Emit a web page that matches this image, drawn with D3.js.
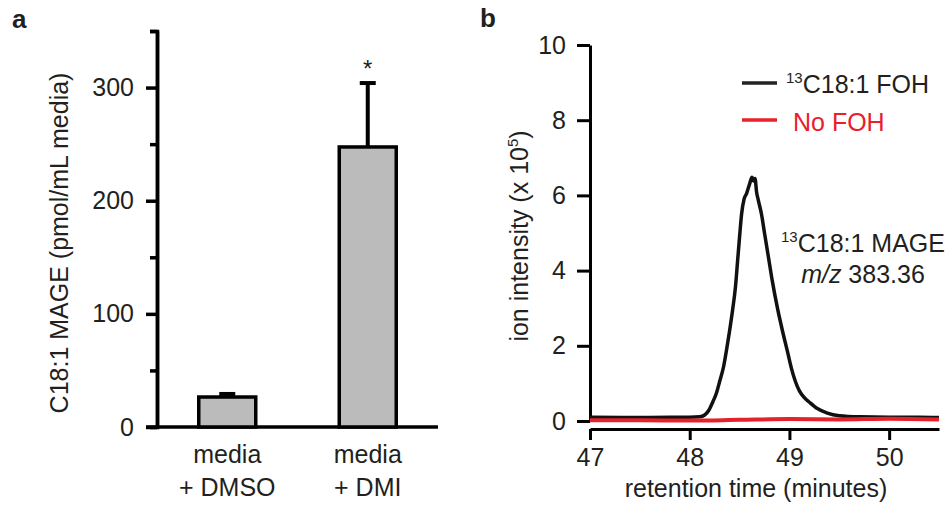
<!DOCTYPE html>
<html>
<head>
<meta charset="utf-8">
<script src="https://d3js.org/d3.v7.min.js"></script>
<style>
  body { margin: 0; background: #fff; }
  svg text { font-family: "Liberation Sans", Arial, sans-serif; fill: #231f20; }
</style>
</head>
<body>
<svg id="chart" width="952" height="508"></svg>
<script>
// panel a data
var groups = ["DMSO", "DMI"];
var groupLines = [["media", "+ DMSO"], ["media", "+ DMI"]];
var means = [26.5, 247.5];
var sems = [2.7, 56.5];
var yTicksA = [0, 100, 200, 300];
var yMinorA = [50, 150, 250, 350];

// panel b data (retention time in minutes, intensity x 10^5)
var fohTime = [47.0, 47.4, 47.8, 48.0, 48.1, 48.15, 48.19, 48.23, 48.27, 48.3, 48.34, 48.37, 48.4, 48.43, 48.46,
  48.48, 48.5, 48.52, 48.545, 48.57, 48.6, 48.625, 48.64, 48.655, 48.67, 48.69, 48.72, 48.75, 48.79, 48.83,
  48.88, 48.93, 48.98, 49.02, 49.06, 49.1, 49.15, 49.2, 49.28, 49.38, 49.5, 49.7, 50.0, 50.3, 50.5];
var fohInt = [0.10, 0.09, 0.10, 0.10, 0.11, 0.16, 0.28, 0.50, 0.76, 1.05, 1.45, 1.90, 2.40, 2.95, 3.60,
  4.25, 4.90, 5.50, 5.90, 6.05, 6.30, 6.48, 6.38, 6.45, 6.10, 5.85, 5.50, 5.00, 4.35, 3.70,
  3.00, 2.40, 1.85, 1.40, 1.05, 0.80, 0.62, 0.50, 0.33, 0.21, 0.14, 0.11, 0.10, 0.10, 0.09];
var noTime = [47.0, 47.5, 48.0, 48.5, 49.0, 49.5, 50.0, 50.5];
var noInt = [0.02, 0.02, 0.01, 0.03, 0.05, 0.04, 0.06, 0.04];
var xTicksB = [47, 48, 49, 50];
var yTicksB = [0, 2, 4, 6, 8, 10];

var svg = d3.select("#chart");
var ink = "#000";

// ---------- panel a ----------
var ya = d3.scaleLinear().domain([0, 350]).range([427, 31]);
var xa = d3.scalePoint().domain(groups).range([157, 438]).padding(0.5);
var barW = 57;

svg.append("text").attr("x", 12).attr("y", 28)
  .style("font-size", "26px").style("font-weight", "bold").text("a");

var gA = svg.append("g").attr("transform", "translate(157,0)");
gA.call(d3.axisLeft(ya).tickValues(yTicksA).tickSize(11).tickSizeOuter(0).tickPadding(12));
gA.append("g").call(d3.axisLeft(ya).tickValues(yMinorA).tickSize(7).tickFormat(""));
gA.selectAll("path.domain").attr("stroke", ink).attr("stroke-width", 3.5);
gA.selectAll(".tick line").attr("stroke", ink).attr("stroke-width", 3.5);
gA.selectAll(".tick text").style("font-size", "25px")
  .style("font-family", "'Liberation Sans', Arial, sans-serif").attr("fill", "#231f20");

// bottom axis line
svg.append("line").attr("x1", 146).attr("x2", 438)
  .attr("y1", ya(0)).attr("y2", ya(0)).attr("stroke", ink).attr("stroke-width", 3.5);

// error bars (upper only)
var errs = svg.append("g");
groups.forEach(function (g, i) {
  var cx = xa(g);
  errs.append("line").attr("x1", cx).attr("x2", cx)
    .attr("y1", ya(means[i])).attr("y2", ya(means[i] + sems[i]))
    .attr("stroke", ink).attr("stroke-width", 4);
  errs.append("line").attr("x1", cx - 8).attr("x2", cx + 8)
    .attr("y1", ya(means[i] + sems[i])).attr("y2", ya(means[i] + sems[i]))
    .attr("stroke", ink).attr("stroke-width", 4);
});

svg.append("g").selectAll("rect").data(groups).enter().append("rect")
  .attr("x", function (d) { return xa(d) - barW / 2; })
  .attr("y", function (d, i) { return ya(means[i]); })
  .attr("width", barW)
  .attr("height", function (d, i) { return ya(0) - ya(means[i]); })
  .attr("fill", "#bbbbbb").attr("stroke", ink).attr("stroke-width", 3.5);

// significance star
svg.append("text").attr("x", xa("DMI")).attr("y", 77).attr("text-anchor", "middle")
  .style("font-size", "24px").text("*");

// category labels
groupLines.forEach(function (lines, i) {
  var t = svg.append("text").attr("text-anchor", "middle").style("font-size", "25px");
  t.append("tspan").attr("x", xa(groups[i])).attr("y", 463).text(lines[0]);
  t.append("tspan").attr("x", xa(groups[i])).attr("y", 496).text(lines[1]);
});

svg.append("text").attr("transform", "translate(68,243) rotate(-90)")
  .attr("text-anchor", "middle").style("font-size", "25px")
  .text("C18:1 MAGE (pmol/mL media)");

// ---------- panel b ----------
var xb = d3.scaleLinear().domain([47, 50.5]).range([590, 939]);
var yb = d3.scaleLinear().domain([0, 10]).range([421, 45]);

svg.append("text").attr("x", 480).attr("y", 27)
  .style("font-size", "26px").style("font-weight", "bold").text("b");

var gyB = svg.append("g").attr("transform", "translate(590,0)")
  .call(d3.axisLeft(yb).tickValues(yTicksB).tickSize(13).tickSizeOuter(0).tickPadding(11));
var gxB = svg.append("g").attr("transform", "translate(0,429)")
  .call(d3.axisBottom(xb).tickValues(xTicksB).tickFormat(d3.format("d"))
    .tickSize(11).tickSizeOuter(0).tickPadding(8));
[gyB, gxB].forEach(function (g) {
  g.selectAll("path.domain").attr("stroke", ink).attr("stroke-width", 3);
  g.selectAll(".tick line").attr("stroke", ink).attr("stroke-width", 3);
  g.selectAll(".tick text").style("font-size", "25px")
    .style("font-family", "'Liberation Sans', Arial, sans-serif").attr("fill", "#231f20");
});

var lineB = d3.line().curve(d3.curveMonotoneX);
svg.append("path")
  .attr("d", lineB(fohTime.map(function (t, i) { return [xb(t), yb(fohInt[i])]; })))
  .attr("fill", "none").attr("stroke", "#111").attr("stroke-width", 3.5)
  .attr("stroke-linejoin", "round");
svg.append("path")
  .attr("d", lineB(noTime.map(function (t, i) { return [xb(t), yb(noInt[i])]; })))
  .attr("fill", "none").attr("stroke", "#e8202a").attr("stroke-width", 4);

// legend
svg.append("line").attr("x1", 742).attr("x2", 777).attr("y1", 83).attr("y2", 83)
  .attr("stroke", "#222").attr("stroke-width", 3.5);
var l1 = svg.append("text").attr("x", 786).attr("y", 93).style("font-size", "25px");
l1.append("tspan").style("font-size", "15px").attr("dy", -10).text("13");
l1.append("tspan").attr("dy", 10).text("C18:1 FOH");
svg.append("line").attr("x1", 742).attr("x2", 777).attr("y1", 120).attr("y2", 120)
  .attr("stroke", "#e8202a").attr("stroke-width", 3.5);
svg.append("text").attr("x", 793).attr("y", 131).style("font-size", "25px")
  .style("fill", "#e8202a").text("No FOH");

// peak annotation
var ann = svg.append("text").attr("text-anchor", "middle").style("font-size", "25px");
var a1 = ann.append("tspan").attr("x", 863).attr("y", 252);
a1.append("tspan").style("font-size", "15px").attr("dy", -10).text("13");
a1.append("tspan").attr("dy", 10).text("C18:1 MAGE");
var a2 = ann.append("tspan").attr("x", 863).attr("y", 283);
a2.append("tspan").style("font-style", "italic").text("m/z");
a2.append("tspan").text(" 383.36");

// axis titles
svg.append("text").attr("x", 756).attr("y", 497).attr("text-anchor", "middle")
  .style("font-size", "25px").text("retention time (minutes)");
var yt = svg.append("text").attr("transform", "translate(528,236) rotate(-90)")
  .attr("text-anchor", "middle").style("font-size", "25px");
yt.append("tspan").text("ion intensity (x 10");
yt.append("tspan").style("font-size", "15px").attr("dy", -10).text("5");
yt.append("tspan").attr("dy", 10).text(")");
</script>
</body>
</html>
